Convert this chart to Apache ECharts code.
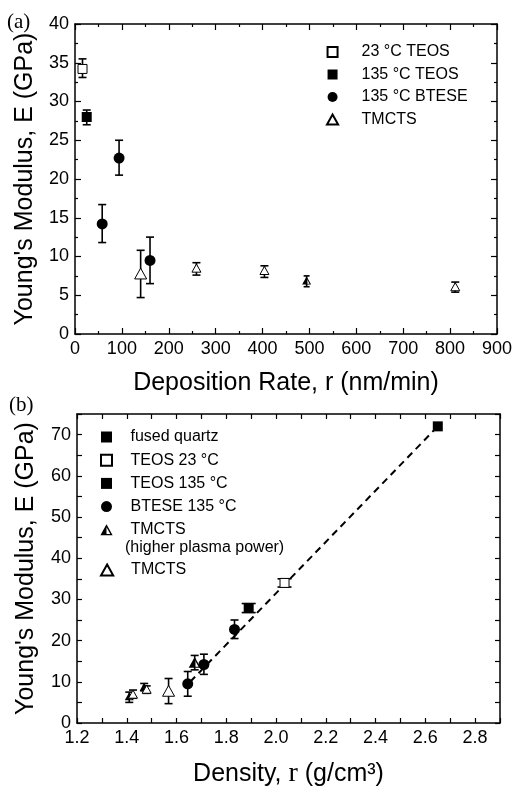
<!DOCTYPE html>
<html>
<head>
<meta charset="utf-8">
<script src="https://cdn.jsdelivr.net/npm/echarts@6/dist/echarts.min.js"></script>
<style>
  html, body { margin: 0; padding: 0; background: #fff; }
  #chart { width: 515px; height: 790px; }
</style>
</head>
<body>
<div id="chart"></div>
<script>
// each point: [x, E, errLow, errHigh]
// (a) deposition rate (nm/min) vs modulus
var aTeos23 = [[16, 34.2, 33.1, 35.5]];
var aTeos135 = [[25, 28.0, 27.0, 28.9]];
var aBtese = [[58, 14.2, 11.8, 16.7], [94, 22.7, 20.5, 25.0], [160, 9.5, 6.5, 12.5]];
var aTmcts = [[140, 7.8, 4.7, 10.8], [259, 8.5, 7.6, 9.2], [404, 8.2, 7.3, 8.8], [811, 6.1, 5.4, 6.7]];
var aTmctsHp = [[494, 6.9, 6.1, 7.5]];

// (b) density (g/cm3) vs modulus
var bQuartz = [[2.65, 72.0, 72.0, 72.0]];
var bTeos23 = [[2.034, 34.0, 33.0, 35.0]];
var bTeos135 = [[1.89, 27.9, 26.8, 29.0]];
var bBtese = [[1.645, 9.5, 6.5, 12.5], [1.71, 14.2, 11.8, 16.7], [1.833, 22.7, 20.5, 25.0]];
var bTmctsHp = [[1.41, 6.5, 5.0, 7.5], [1.47, 8.8, 7.8, 9.6], [1.673, 14.7, 12.9, 16.4]];
var bTmcts = [[1.425, 7.0, 6.0, 8.0], [1.48, 8.2, 7.2, 9.0], [1.568, 7.8, 4.7, 10.8]];
var bFit = [[1.655, 10.0], [2.65, 72.0]];

var FONT = "'Liberation Sans', Arial, sans-serif";
var SERIF = "'Liberation Serif', 'Times New Roman', serif";
// path symbols keep their aspect in the legend
var SQUARE = "path://M0,0L10,0L10,10L0,10Z";
var TRI = "path://M5,0L10,9L0,9Z";
var HALF_TRI = "path://M10,0L10,18L0,18Z M10,0L20,18L17.4,18L10,4.7Z M10,16L18.9,16L20,18L10,18Z";

var chart = echarts.init(document.getElementById("chart"));

function errBars(name, data, xi, yi, cap) {
  return {
    name: name,
    type: "custom",
    xAxisIndex: xi,
    yAxisIndex: yi,
    z: 1,
    silent: true,
    encode: { x: 0, y: [2, 3] },
    data: data,
    renderItem: function (params, api) {
      var x = api.value(0);
      var hi = api.coord([x, api.value(3)]);
      var lo = api.coord([x, api.value(2)]);
      var st = { stroke: "#000", lineWidth: 1.6 };
      var w = cap / 2;
      return {
        type: "group",
        children: [
          { type: "line", shape: { x1: hi[0], y1: hi[1], x2: lo[0], y2: lo[1] }, style: st },
          { type: "line", shape: { x1: hi[0] - w, y1: hi[1], x2: hi[0] + w, y2: hi[1] }, style: st },
          { type: "line", shape: { x1: lo[0] - w, y1: lo[1], x2: lo[0] + w, y2: lo[1] }, style: st }
        ]
      };
    }
  };
}

function pts(name, data, xi, yi, symbol, size, fill) {
  return {
    name: name,
    type: "scatter",
    xAxisIndex: xi,
    yAxisIndex: yi,
    z: 3,
    symbol: symbol,
    symbolSize: size,
    symbolKeepAspect: true,
    itemStyle: {
      color: fill,
      borderColor: "#000",
      borderWidth: fill === "#fff" ? 1 : 0,
      opacity: 1
    },
    data: data.map(function (d) { return [d[0], d[1]]; })
  };
}

var tickStyle = { color: "#000", width: 1.2 };
var lineStyle = { color: "#000", width: 1.5 };

function valAxis(o) {
  var base = {
    type: "value",
    axisLine: { show: true, onZero: false, lineStyle: lineStyle },
    axisTick: { show: true, inside: true, length: 6, lineStyle: tickStyle },
    splitLine: { show: false },
    axisLabel: { color: "#000", fontSize: 18, fontFamily: FONT, margin: 6 },
    nameTextStyle: { color: "#000", fontSize: 25, fontFamily: FONT }
  };
  return Object.assign(base, o);
}

var minorA = { show: true, splitNumber: 2, length: 3, lineStyle: tickStyle };
var legendText = { color: "#000", fontSize: 16, fontFamily: FONT, lineHeight: 16 };

var option = {
  backgroundColor: "#fff",
  animation: false,
  grid: [
    { left: 75, top: 24, width: 423, height: 310 },
    { left: 77, top: 414, width: 423, height: 309 }
  ],
  xAxis: [
    valAxis({
      gridIndex: 0, min: 0, max: 900, interval: 100, minorTick: minorA,
      name: "Deposition Rate, r (nm/min)", nameLocation: "middle", nameGap: 37
    }),
    valAxis({
      gridIndex: 0, position: "top", min: 0, max: 900, interval: 100, minorTick: minorA,
      axisLabel: { show: false }
    }),
    valAxis({
      gridIndex: 1, min: 1.2, max: 2.9, interval: 0.1,
      axisTick: { show: true, inside: true, length: 5, lineStyle: tickStyle },
      axisLabel: {
        color: "#000", fontSize: 18, fontFamily: FONT, margin: 6,
        formatter: function (v) {
          var k = Math.round(v * 10);
          return (k % 2 === 0 && k <= 28) ? (k / 10).toFixed(1) : "";
        }
      },
      name: "Density, {r|r} (g/cm³)", nameLocation: "middle", nameGap: 37,
      nameTextStyle: {
        color: "#000", fontSize: 25, fontFamily: FONT, lineHeight: 28,
        rich: {
          r: { fontFamily: SERIF, fontSize: 28, color: "#000", lineHeight: 28 }
        }
      }
    }),
    valAxis({
      gridIndex: 1, position: "top", min: 1.2, max: 2.9, interval: 0.1,
      axisTick: { show: true, inside: true, length: 5, lineStyle: tickStyle },
      axisLabel: { show: false }
    })
  ],
  yAxis: [
    valAxis({
      gridIndex: 0, min: 0, max: 40, interval: 5, minorTick: minorA,
      name: "Young's Modulus, E (GPa)", nameLocation: "middle", nameGap: 37
    }),
    valAxis({
      gridIndex: 0, position: "right", min: 0, max: 40, interval: 5, minorTick: minorA,
      axisLabel: { show: false }
    }),
    valAxis({
      gridIndex: 1, min: 0, max: 75, interval: 5,
      axisTick: { show: true, inside: true, length: 5, lineStyle: tickStyle },
      axisLabel: {
        color: "#000", fontSize: 18, fontFamily: FONT, margin: 6,
        formatter: function (v) { return (v % 10 === 0 && v <= 70) ? String(v) : ""; }
      },
      name: "Young's Modulus, E (GPa)", nameLocation: "middle", nameGap: 38
    }),
    valAxis({
      gridIndex: 1, position: "right", min: 0, max: 75, interval: 5,
      axisTick: { show: true, inside: true, length: 5, lineStyle: tickStyle },
      axisLabel: { show: false }
    })
  ],
  legend: [
    {
      data: ["23 °C TEOS", "135 °C TEOS", "135 °C BTESE", "TMCTS"],
      orient: "vertical", left: 321, top: 39, itemWidth: 48, itemHeight: 10, itemGap: 6.5,
      selectedMode: false, symbolKeepAspect: true,
      textStyle: legendText
    },
    {
      data: ["fused quartz", "TEOS 23 °C", "TEOS 135 °C", "BTESE 135 °C", "TMCTS (higher plasma power)"],
      orient: "vertical", left: 95, top: 424, itemWidth: 38, itemHeight: 11, itemGap: 7.2,
      selectedMode: false, symbolKeepAspect: true,
      formatter: function (n) { return n === "TMCTS (higher plasma power)" ? "TMCTS" : n; },
      textStyle: legendText
    },
    {
      data: ["TMCTS"],
      orient: "vertical", left: 95, top: 557, itemWidth: 38, itemHeight: 11,
      selectedMode: false, symbolKeepAspect: true,
      textStyle: legendText
    }
  ],
  graphic: [
    { type: "text", left: 7, top: 12, style: { text: "(a)", fontSize: 21, fontFamily: SERIF, fill: "#000" } },
    { type: "text", left: 9, top: 395, style: { text: "(b)", fontSize: 21, fontFamily: SERIF, fill: "#000" } },
    { type: "text", left: 125, top: 540, style: { text: "(higher plasma power)", fontSize: 16, fontFamily: FONT, fill: "#000" } }
  ],
  series: [
    errBars("e1", aTeos23, 0, 0, 8),
    errBars("e2", aTeos135, 0, 0, 8),
    errBars("e3", aBtese, 0, 0, 8),
    errBars("e4", aTmcts, 0, 0, 8),
    errBars("e5", aTmctsHp, 0, 0, 6),
    pts("23 °C TEOS", aTeos23, 0, 0, SQUARE, 9, "#fff"),
    pts("135 °C TEOS", aTeos135, 0, 0, SQUARE, 10, "#000"),
    pts("135 °C BTESE", aBtese, 0, 0, "circle", 11, "#000"),
    Object.assign(pts("TMCTS", aTmcts, 0, 0, TRI, 9, "#fff"), {
      symbolSize: function (v, p) { return p.dataIndex === 0 ? 12 : 9; }
    }),
    pts("TMCTS (higher plasma power)", aTmctsHp, 0, 0, HALF_TRI, 9, "#000"),

    errBars("f2", bTeos23, 2, 2, 14),
    errBars("f3", bTeos135, 2, 2, 14),
    errBars("f4", bBtese, 2, 2, 8),
    errBars("f5", bTmctsHp, 2, 2, 8),
    errBars("f6", bTmcts, 2, 2, 8),
    {
      name: "fit",
      type: "line",
      xAxisIndex: 2,
      yAxisIndex: 2,
      z: 2,
      symbol: "none",
      silent: true,
      lineStyle: { color: "#000", width: 2, type: [7, 5] },
      data: bFit
    },
    pts("fused quartz", bQuartz, 2, 2, SQUARE, 10, "#000"),
    pts("TEOS 23 °C", bTeos23, 2, 2, SQUARE, 9, "#fff"),
    pts("TEOS 135 °C", bTeos135, 2, 2, SQUARE, 10, "#000"),
    pts("BTESE 135 °C", bBtese, 2, 2, "circle", 11, "#000"),
    Object.assign(pts("TMCTS (higher plasma power)", bTmctsHp, 2, 2, HALF_TRI, 9, "#000"), {
      symbolSize: function (v, p) { return p.dataIndex === 2 ? 12 : 9; }
    }),
    Object.assign(pts("TMCTS", bTmcts, 2, 2, TRI, 9, "#fff"), {
      symbolSize: function (v, p) { return p.dataIndex === 2 ? 12 : 9; }
    })
  ]
};

chart.setOption(option);
window.addEventListener("resize", function () {
  chart.resize();
});
</script>
</body>
</html>
